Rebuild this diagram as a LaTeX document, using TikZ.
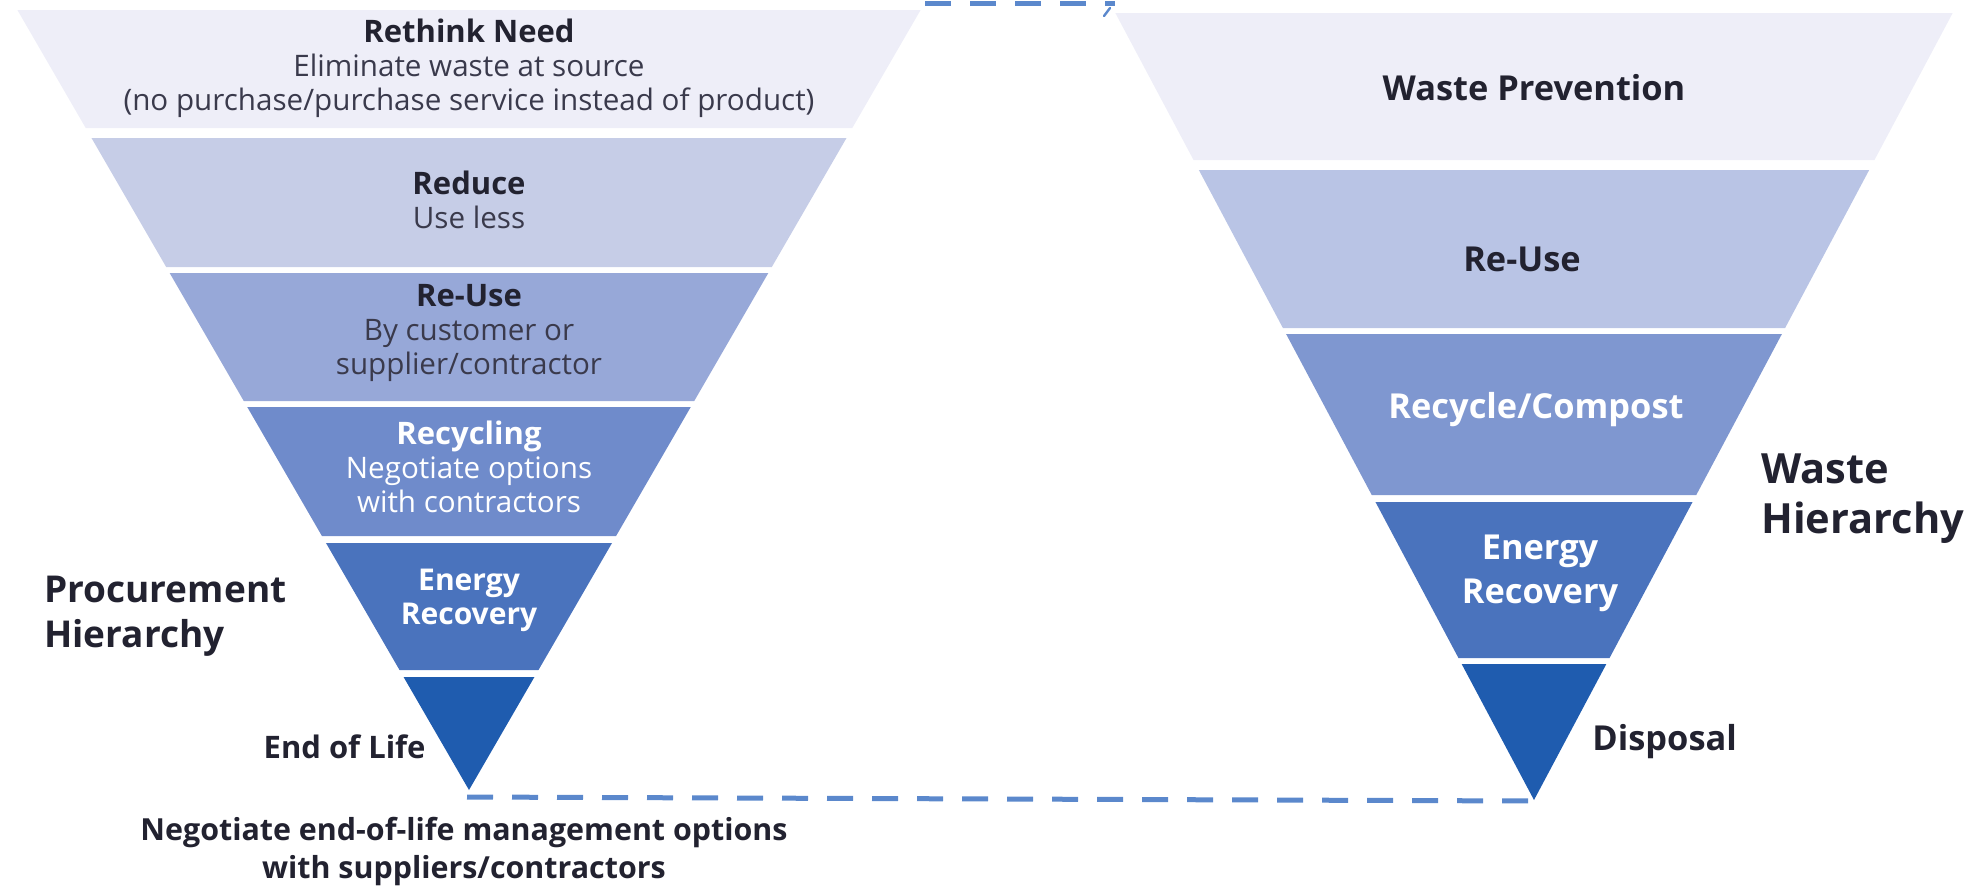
\documentclass[tikz,border=0pt]{standalone}
\usepackage{fontspec}
\setmainfont{Open Sans}
\usetikzlibrary{positioning}

\definecolor{bandA}{HTML}{EEEEF8}
\definecolor{bandB}{HTML}{C6CDE7}
\definecolor{bandC}{HTML}{97A8D8}
\definecolor{bandD}{HTML}{6F8BCB}
\definecolor{bandE}{HTML}{4A73BD}
\definecolor{bandF}{HTML}{1F5CAF}
\definecolor{wbandB}{HTML}{B9C4E5}
\definecolor{wbandC}{HTML}{7F97D0}
\definecolor{txtdark}{HTML}{222230}
\definecolor{txtsub}{HTML}{3A3A4C}
\definecolor{dashblue}{HTML}{5B88CC}

\tikzset{
  small/.style={align=center, inner sep=0pt, font=\fontsize{14.8}{17}\selectfont},
  big/.style={align=center, inner sep=0pt, font=\fontsize{17.2}{22}\selectfont\bfseries},
  title/.style={align=left, inner sep=0pt, text=txtdark, font=\fontsize{18.5}{22.5}\selectfont\bfseries},
  dashline/.style={dashblue, line width=2.5pt, dash pattern=on 13pt off 9.5pt}
}
\newcommand{\bandtitle}[1]{{\fontsize{15.5}{17}\selectfont\bfseries #1}}

\begin{document}
\begin{tikzpicture}[x=0.5pt, y=-0.5pt]
\useasboundingbox (0,0) rectangle (1965,890);

% procurement hierarchy (left)
\foreach \t/\b/\c in {10/128/bandA, 138/267/bandB, 273/401/bandC, 407/536/bandD, 543/670/bandE, 677/790/bandF}
  \fill[\c] ({469-0.579*(790-\t)},\t) -- ({469+0.579*(790-\t)},\t)
    -- ({469+0.579*(790-\b)},\b) -- ({469-0.579*(790-\b)},\b) -- cycle;

% waste hierarchy (right)
\foreach \t/\b/\c in {13/160/bandA, 170/328/wbandB, 334/495/wbandC, 502/658/bandE, 664/800/bandF}
  \fill[\c] ({1534-0.532*(800-\t)},\t) -- ({1534+0.532*(800-\t)},\t)
    -- ({1534+0.532*(800-\b)},\b) -- ({1534-0.532*(800-\b)},\b) -- cycle;

\coordinate (pApex) at (467,790);
\coordinate (wApex) at (1533,800);
\coordinate (pTop) at (925,3);
\coordinate (wTop) at (1115,3);

% left band texts
\node[small, text=txtsub] (rethink) at (469,68) {{\color{txtdark}\bandtitle{Rethink Need}}\\Eliminate waste at source\\(no purchase/purchase service instead of product)};
\node[small, text=txtsub] (reduce) at (469,200) {{\color{txtdark}\bandtitle{Reduce}}\\Use less};
\node[small, text=txtsub] (reuse) at (469,333) {{\color{txtdark}\bandtitle{Re-Use}}\\By customer or\\supplier/contractor};
\node[small, text=white] (recycling) at (469,467) {\bandtitle{Recycling}\\Negotiate options\\with contractors};
\node[small, text=white, font=\fontsize{15}{17}\selectfont\bfseries] (penergy) at (469,600) {Energy\\Recovery};
\node[small, text=txtdark, font=\fontsize{15.5}{17}\selectfont\bfseries, anchor=east] (eol) at (426,747) {End of Life};
\node[title, anchor=west] (proc) at (44,616) {Procurement\\Hierarchy};
\node[small, text=txtdark, font=\fontsize{15.2}{19}\selectfont\bfseries] (negotiate) at (464,852) {Negotiate end-of-life management options\\with suppliers/contractors};

% right band texts
\node[big, text=txtdark] (prevent) at (1534,88) {Waste Prevention};
\node[big, text=txtdark] (wreuse) at (1522,259) {Re-Use};
\node[big, text=white] (compost) at (1536,410) {Recycle/Compost};
\node[big, text=white] (wenergy) at (1540,573) {Energy\\Recovery};
\node[big, text=txtdark, anchor=west] (disposal) at (1592,742) {Disposal};
\node[title, anchor=west, font=\fontsize{20.8}{25}\selectfont\bfseries] (waste) at (1761,499) {Waste\\Hierarchy};

% links between the two hierarchies
\draw[dashline] ([yshift=-3.5pt]pApex) -- ([yshift=-0.5pt]wApex);
\draw[dashline] (pTop) -- (wTop);
\draw[dashblue, line width=1.2pt, line cap=round] (1110,8) -- (1104,16);

\end{tikzpicture}
\end{document}
